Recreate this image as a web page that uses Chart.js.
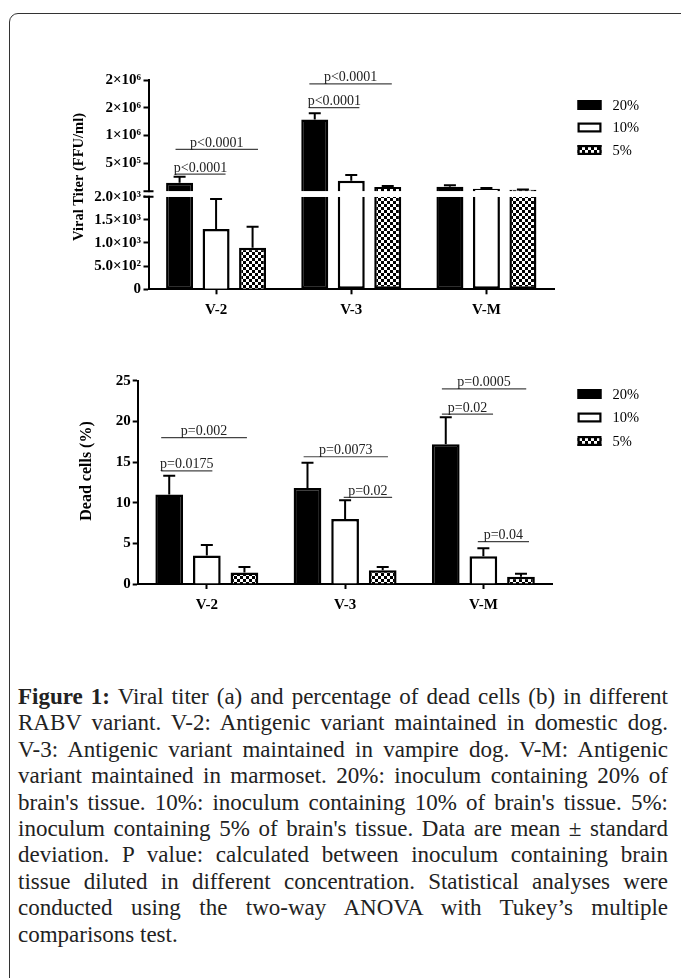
<!DOCTYPE html>
<html>
<head>
<meta charset="utf-8">
<title>Viral titer and dead cells</title>
<script src="https://cdn.jsdelivr.net/npm/chart.js"></script>
<style>
  body { margin: 0; background: #fff; width: 681px; height: 978px; position: relative; overflow: hidden; }
  #frame { position: absolute; left: 9px; top: 13px; width: 720px; height: 1000px; border: 1.3px solid #333; border-radius: 9px; }
  canvas { position: absolute; left: 0; }
  #caption { position: absolute; left: 18px; top: 684px; width: 650px; font: 23px "Liberation Serif", serif; color: #222; line-height: 26.4px; }
  #caption div { text-align: justify; text-align-last: justify; }
  #caption div:last-child { text-align-last: left; }
</style>
</head>
<body>
<div id="frame"></div>
<canvas id="titer" width="681" height="330" style="top:0"></canvas>
<canvas id="dead" width="681" height="300" style="top:330px"></canvas>
<div id="caption">
  <div><b>Figure 1:</b> Viral titer (a) and percentage of dead cells (b) in different</div>
  <div>RABV variant. V-2: Antigenic variant maintained in domestic dog.</div>
  <div>V-3: Antigenic variant maintained in vampire dog. V-M: Antigenic</div>
  <div>variant maintained in marmoset. 20%: inoculum containing 20% of</div>
  <div>brain's tissue. 10%: inoculum containing 10% of brain's tissue. 5%:</div>
  <div>inoculum containing 5% of brain's tissue. Data are mean ± standard</div>
  <div>deviation. P value: calculated between inoculum containing brain</div>
  <div>tissue diluted in different concentration. Statistical analyses were</div>
  <div>conducted using the two-way ANOVA with Tukey’s multiple</div>
  <div>comparisons test.</div>
</div>
<script>
const variants = ['V-2', 'V-3', 'V-M'];
const inocula = ['20%', '10%', '5%'];

// (a) viral titer, FFU/ml, mean and SD
const titer20 = [150000, 1290000, 80000];
const titer10 = [1300, 185000, 43000];
const titer5 = [900, 74000, 25000];
const titerSd20 = [110000, 110000, 25000];
const titerSd10 = [650, 105000, 13000];
const titerSd5 = [450, 18000, 3000];
const titerBreak = 2000;
const titerLowTicks = [0, 500, 1000, 1500, 2000];
const titerLowLabels = ['0', '5.0×10²', '1.0×10³', '1.5×10³', '2.0×10³'];
const titerHighTicks = [500000, 1000000, 1500000, 2000000];
const titerHighLabels = ['5×10⁵', '1×10⁶', '2×10⁶', '2×10⁶'];
const titerP = [
  {cat: 0, from: -0.3, to: 0.07, y: 308000, text: 'p<0.0001'},
  {cat: 0, from: -0.3, to: 0.31, y: 753000, text: 'p<0.0001'},
  {cat: 1, from: -0.31, to: 0.06, y: 1503000, text: 'p<0.0001'},
  {cat: 1, from: -0.31, to: 0.3, y: 1930000, text: 'p<0.0001'}
];

// (b) dead cells, %, mean and SD
const dead20 = [11.0, 11.8, 17.2];
const dead10 = [3.5, 8.0, 3.4];
const dead5 = [1.4, 1.7, 0.9];
const deadSd20 = [2.3, 3.1, 3.3];
const deadSd10 = [1.3, 2.3, 1.0];
const deadSd5 = [0.7, 0.4, 0.35];
const deadTicks = [0, 5, 10, 15, 20, 25];
const deadP = [
  {cat: 0, from: -0.33, to: 0.29, y: 18, text: 'p=0.002'},
  {cat: 0, from: -0.33, to: 0.04, y: 13.9, text: 'p=0.0175'},
  {cat: 1, from: -0.3, to: 0.31, y: 15.65, text: 'p=0.0073'},
  {cat: 1, from: -0.01, to: 0.34, y: 10.65, text: 'p=0.02'},
  {cat: 2, from: -0.3, to: 0.31, y: 24, text: 'p=0.0005'},
  {cat: 2, from: -0.3, to: 0.07, y: 20.9, text: 'p=0.02'},
  {cat: 2, from: -0.04, to: 0.33, y: 5.2, text: 'p=0.04'}
];

Chart.defaults.font.family = '"Liberation Serif", "Times New Roman", serif';
Chart.defaults.color = '#000';

function checker(ctx) {
  var c = document.createElement('canvas');
  c.width = 6; c.height = 6;
  var g = c.getContext('2d');
  g.fillStyle = '#fff'; g.fillRect(0, 0, 6, 6);
  g.fillStyle = '#000'; g.fillRect(0, 0, 3, 3); g.fillRect(3, 3, 3, 3);
  return ctx.createPattern(c, 'repeat');
}

function fills(ctx) {
  return [
    {backgroundColor: '#000', borderColor: '#000'},
    {backgroundColor: '#fff', borderColor: '#000'},
    {backgroundColor: checker(ctx), borderColor: '#000'}
  ];
}

// error bars, only the upper half
const errorBars = {
  id: 'errorBars',
  afterDatasetsDraw(chart) {
    var ctx = chart.ctx;
    ctx.save();
    ctx.strokeStyle = '#000';
    ctx.lineWidth = 2;
    chart.data.datasets.forEach(function (ds, i) {
      if (!ds.sd) return;
      var meta = chart.getDatasetMeta(i);
      var scale = chart.scales[meta.yAxisID];
      meta.data.forEach(function (bar, j) {
        if (ds.data[j] == null || ds.sd[j] == null) return;
        var top = scale.getPixelForValue(ds.data[j] + ds.sd[j]);
        ctx.beginPath();
        ctx.moveTo(bar.x, bar.y);
        ctx.lineTo(bar.x, top);
        ctx.moveTo(bar.x - 6, top);
        ctx.lineTo(bar.x + 6, top);
        ctx.stroke();
      });
    });
    ctx.restore();
  }
};

// significance lines with p values
const brackets = {
  id: 'brackets',
  afterDatasetsDraw(chart, args, opts) {
    var ctx = chart.ctx, x = chart.scales.x, y = chart.scales[opts.axis];
    var w = x.getPixelForValue(1) - x.getPixelForValue(0);
    ctx.save();
    ctx.font = '14px "Liberation Serif"';
    ctx.fillStyle = '#222';
    ctx.strokeStyle = '#444';
    ctx.lineWidth = 1.2;
    ctx.textAlign = 'center';
    opts.items.forEach(function (b) {
      var c = x.getPixelForValue(b.cat);
      var x0 = c + b.from * w, x1 = c + b.to * w, yy = y.getPixelForValue(b.y);
      ctx.beginPath();
      ctx.moveTo(x0, yy);
      ctx.lineTo(x1, yy);
      ctx.stroke();
      ctx.fillText(b.text, (x0 + x1) / 2, yy - 2.5);
    });
    ctx.restore();
  }
};

const boxLegend = {
  id: 'boxLegend',
  afterDraw(chart, args, opts) {
    var ctx = chart.ctx;
    ctx.save();
    ctx.font = '14.5px "Liberation Serif"';
    ctx.textBaseline = 'middle';
    ctx.fillStyle = '#000';
    chart.data.datasets.filter(function (d) { return d.inLegend; }).forEach(function (ds, i) {
      var yy = opts.y + i * opts.gap;
      ctx.fillStyle = ds.backgroundColor;
      ctx.fillRect(opts.x, yy - 5, 24, 10);
      ctx.strokeStyle = '#000';
      ctx.lineWidth = 2.2;
      ctx.strokeRect(opts.x + 1.1, yy - 3.9, 21.8, 7.8);
      ctx.fillStyle = '#000';
      ctx.fillText(ds.label, opts.x + 35, yy + 1);
    });
    ctx.restore();
  }
};

const yTitle = {
  id: 'yTitle',
  afterDraw(chart, args, opts) {
    var ctx = chart.ctx;
    ctx.save();
    ctx.translate(opts.x, opts.y);
    ctx.rotate(-Math.PI / 2);
    ctx.font = 'bold ' + opts.size + 'px "Liberation Serif"';
    ctx.textAlign = 'center';
    ctx.textBaseline = 'middle';
    ctx.fillStyle = '#000';
    ctx.fillText(opts.text, 0, 0);
    ctx.restore();
  }
};

// gap in the y axis between the two titer segments
const axisBreak = {
  id: 'axisBreak',
  afterDraw(chart) {
    var lo = chart.scales.y, hi = chart.scales.y2;
    var ctx = chart.ctx, ax = chart.chartArea.left;
    var yLow = lo.getPixelForValue(lo.max), yHigh = hi.getPixelForValue(0);
    ctx.save();
    ctx.fillStyle = '#fff';
    ctx.fillRect(ax - 3, yHigh + 1, 6, yLow - yHigh - 2);
    ctx.strokeStyle = '#000';
    ctx.lineWidth = 2;
    ctx.beginPath();
    ctx.moveTo(ax - 5, yHigh); ctx.lineTo(ax + 5, yHigh);
    ctx.moveTo(ax - 5, yLow); ctx.lineTo(ax + 5, yLow);
    ctx.stroke();
    ctx.restore();
  }
};

function axisStyle() {
  return {
    grid: {drawOnChartArea: false, drawTicks: true, tickLength: 5, tickWidth: 2, tickColor: '#000'},
    border: {display: true, color: '#000', width: 2}
  };
}

function xScale(height) {
  var s = axisStyle();
  s.grid.offset = false;
  return Object.assign(s, {
    type: 'category',
    ticks: {font: {size: 15, weight: 'bold'}, padding: 7, maxRotation: 0},
    afterFit: function (sc) { sc.height = height; }
  });
}

function yScale(width, extra) {
  return Object.assign(axisStyle(), {
    stacked: false,
    afterFit: function (sc) { sc.width = width; }
  }, extra);
}

// ---- chart (a)
var ctxA = document.getElementById('titer').getContext('2d');
var stA = fills(ctxA);
var meansA = [titer20, titer10, titer5];
var sdsA = [titerSd20, titerSd10, titerSd5];
var dsA = [];
meansA.forEach(function (m, k) {
  dsA.push(Object.assign({
    label: inocula[k], inLegend: true, stack: 's' + k, yAxisID: 'y',
    data: m.map(function (v) { return Math.min(v, titerBreak); }),
    sd: m.map(function (v, i) { return v > titerBreak ? null : sdsA[k][i]; }),
    borderWidth: 2.5,
    borderSkipped: function (c) { return m[c.dataIndex] > titerBreak ? 'top' : 'start'; }
  }, stA[k]));
});
meansA.forEach(function (m, k) {
  dsA.push(Object.assign({
    label: inocula[k], stack: 's' + k, yAxisID: 'y2',
    data: m.map(function (v) { return v > titerBreak ? v : null; }),
    sd: m.map(function (v, i) { return v > titerBreak ? sdsA[k][i] : null; }),
    borderWidth: 2.5
  }, stA[k]));
});

new Chart(ctxA, {
  type: 'bar',
  data: {labels: variants, datasets: dsA},
  options: {
    responsive: false,
    animation: false,
    categoryPercentage: 0.81,
    barPercentage: 0.74,
    layout: {padding: {top: 80, right: 127, left: 0, bottom: 0}},
    plugins: {
      legend: {display: false},
      tooltip: {enabled: false},
      brackets: {axis: 'y2', items: titerP},
      boxLegend: {x: 577.5, y: 105, gap: 22.5},
      yTitle: {text: 'Viral Titer (FFU/ml)', x: 79, y: 177, size: 14.5}
    },
    scales: {
      x: xScale(40.7),
      y: yScale(148.5, {
        type: 'linear', position: 'left', stack: 'titer', stackWeight: 92.6,
        min: 0, max: titerBreak,
        afterBuildTicks: function (sc) { sc.ticks = titerLowTicks.map(function (v) { return {value: v}; }); },
        ticks: {autoSkip: false, padding: 2.5, font: {size: 15, weight: 'bold'},
          callback: function (v) { return titerLowLabels[titerLowTicks.indexOf(v)]; }}
      }),
      y2: yScale(148.5, {
        type: 'linear', position: 'left', stack: 'titer', stackWeight: 116.7,
        min: -100000, max: 2000000,
        afterBuildTicks: function (sc) { sc.ticks = titerHighTicks.map(function (v) { return {value: v}; }); },
        ticks: {autoSkip: false, padding: 2.5, font: {size: 15, weight: 'bold'},
          callback: function (v) { return titerHighLabels[titerHighTicks.indexOf(v)]; }}
      })
    }
  },
  plugins: [errorBars, brackets, boxLegend, yTitle, axisBreak]
});

// ---- chart (b)
var ctxB = document.getElementById('dead').getContext('2d');
var stB = fills(ctxB);
var meansB = [dead20, dead10, dead5];
var sdsB = [deadSd20, deadSd10, deadSd5];
var dsB = meansB.map(function (m, k) {
  return Object.assign({label: inocula[k], inLegend: true, data: m, sd: sdsB[k], borderWidth: 2.5}, stB[k]);
});

new Chart(ctxB, {
  type: 'bar',
  data: {labels: variants, datasets: dsB},
  options: {
    responsive: false,
    animation: false,
    categoryPercentage: 0.816,
    barPercentage: 0.737,
    layout: {padding: {top: 50.7, right: 128.5, left: 0, bottom: 0}},
    plugins: {
      legend: {display: false},
      tooltip: {enabled: false},
      brackets: {axis: 'y', items: deadP},
      boxLegend: {x: 577.5, y: 64, gap: 23.5},
      yTitle: {text: 'Dead cells (%)', x: 87, y: 141, size: 16}
    },
    scales: {
      x: xScale(46),
      y: yScale(137.7, {
        type: 'linear', min: 0, max: 25,
        afterBuildTicks: function (sc) { sc.ticks = deadTicks.map(function (v) { return {value: v}; }); },
        ticks: {autoSkip: false, padding: 2, font: {size: 15, weight: 'bold'}}
      })
    }
  },
  plugins: [errorBars, brackets, boxLegend, yTitle]
});
</script>
</body>
</html>
